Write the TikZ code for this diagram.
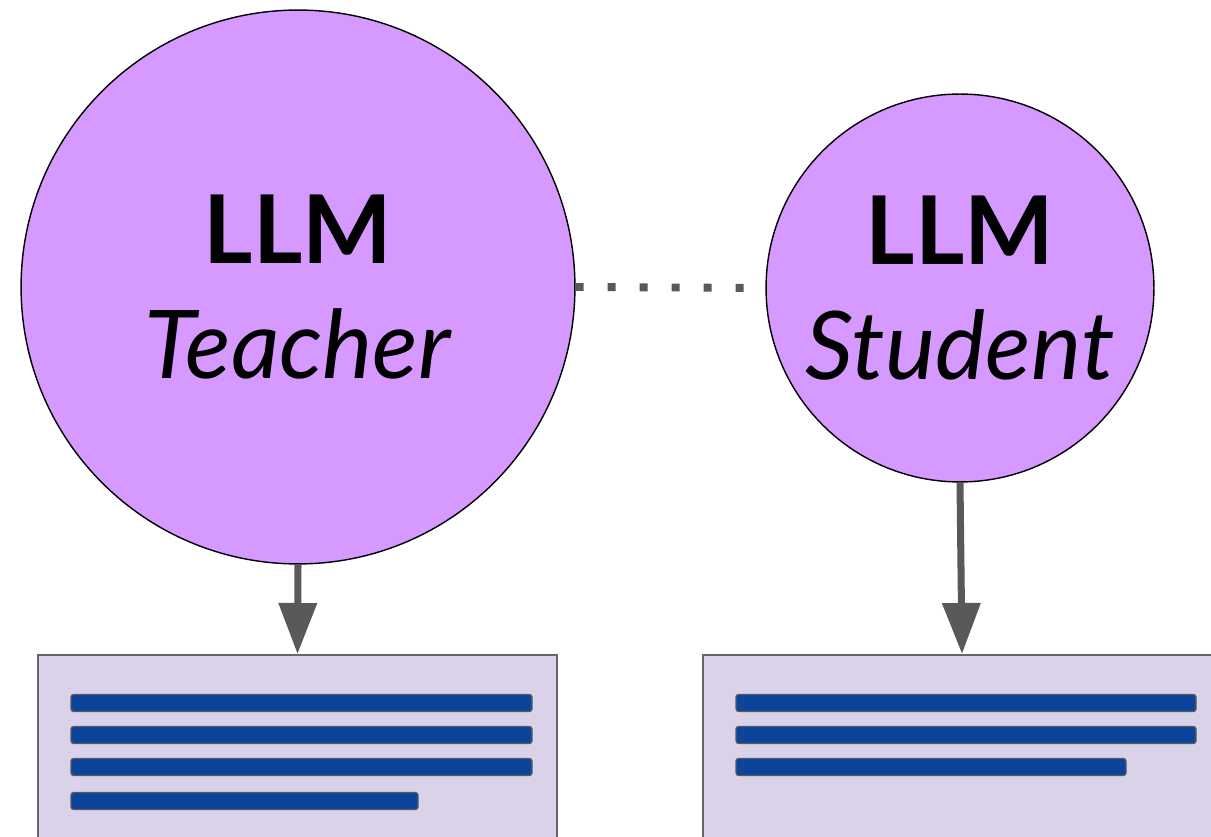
\documentclass[tikz,border=0pt]{standalone}
\usepackage{fontspec}
\setmainfont{Lato}
\usetikzlibrary{arrows.meta, positioning}
\definecolor{llmfill}{RGB}{214,153,255}
\definecolor{docfill}{RGB}{217,210,233}
\definecolor{barfill}{RGB}{11,68,155}
\definecolor{linkgray}{RGB}{89,89,89}
\begin{document}
\begin{tikzpicture}[
    x=0.02cm, y=-0.02cm,
    >={Triangle[length=1.02cm, width=0.74cm]},
    llm/.style={circle, draw, line width=0.8pt, fill=llmfill, align=center, inner sep=0pt, font=\fontsize{54}{65.5}\selectfont},
    doc/.style={draw=black!60, line width=1.1pt, fill=docfill, minimum width=10.38cm, minimum height=5cm, anchor=north, inner sep=0pt},
    bar/.style={draw=linkgray, line width=0.7pt, fill=barfill, rounded corners=1.5pt},
    arr/.style={->, draw=linkgray, line width=4pt},
    link/.style={draw=linkgray, line width=4.5pt, dash pattern=on 0.16cm off 0.48cm},
]
\clip (0,0) rectangle (1211,837);
% ----- the two models
\node[llm, minimum size=11.08cm] (teacher) at (298,287) {\textbf{LLM}\\\textit{Teacher}};
\node[llm, minimum size=7.76cm] (student) at (960,288) {\textbf{LLM}\\\textit{Student}};
\draw[link] (teacher.east) -- (student.west);
% ----- the generated texts
\node[doc] (teacherdoc) at (297.5,654) {};
\node[doc] (studentdoc) at (962,654) {};
\foreach \y/\r in {703/532, 735/532, 767/532, 801/418} { \draw[bar] (71,\y-8.5) rectangle (\r,\y+8.5); }
\foreach \y/\r in {703/1196, 735/1196, 767/1126} { \draw[bar] (736,\y-8.5) rectangle (\r,\y+8.5); }
\draw[arr] (teacher.south) -- (teacherdoc.north);
\draw[arr] (student.south) -- (studentdoc.north);
\end{tikzpicture}
\end{document}
